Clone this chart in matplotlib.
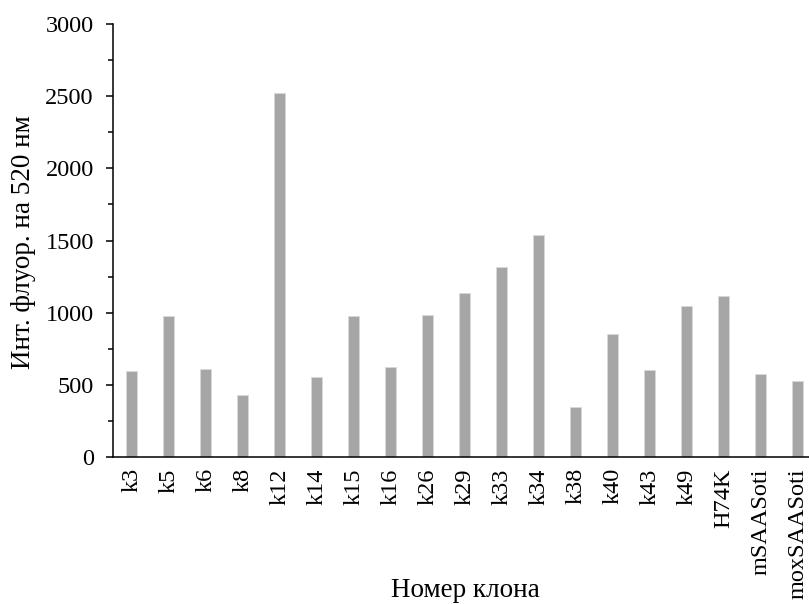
import numpy as np
import matplotlib
matplotlib.use("Agg")
import matplotlib.pyplot as plt
from matplotlib.ticker import MultipleLocator

plt.rcParams['font.family'] = ['Liberation Serif', 'DejaVu Serif']

clones = ["k3", "k5", "k6", "k8", "k12", "k14", "k15", "k16", "k26", "k29",
          "k33", "k34", "k38", "k40", "k43", "k49", "H74K", "mSAASoti",
          "moxSAASoti"]
fluor = [595, 980, 607, 430, 2520, 553, 975, 622, 985, 1135,
         1320, 1540, 345, 855, 605, 1045, 1115, 572, 530]

fs = 17.5       # tick labels
fs_title = 19.5 # axis titles

fig = plt.figure(figsize=(8.09, 6.04), dpi=100)
ax = fig.add_axes([0.1397, 0.2433, 0.869, 0.7169])

x = np.arange(len(clones))
ax.bar(x, fluor, width=0.3, color="#a6a6a6", edgecolor="#d9d9d9",
       linewidth=0.6)

ax.set_xlim(-0.5, len(clones) - 0.5)
ax.set_ylim(0, 3000)
ax.yaxis.set_major_locator(MultipleLocator(500))
ax.yaxis.set_minor_locator(MultipleLocator(250))

ax.set_xticks(x)
ax.set_xticklabels(clones, rotation=90, fontsize=fs)
ax.tick_params(axis='x', length=0, pad=8)
ax.tick_params(axis='y', which='major', length=4.8, width=1.1, labelsize=fs,
               pad=9)
ax.tick_params(axis='y', which='minor', length=3.6, width=1.1)

for s in ["top", "right"]:
    ax.spines[s].set_visible(False)
for s in ["left", "bottom"]:
    ax.spines[s].set_linewidth(1.1)

# axis titles placed in figure coords
fig.text(0.029, 0.599, "Инт. флуор. на 520 нм", fontsize=fs_title,
         rotation=90, ha="center", va="center")
fig.text(0.575, 0.022, "Номер клона", fontsize=fs_title,
         ha="center", va="center")

fig.savefig("out.png", dpi=100)
